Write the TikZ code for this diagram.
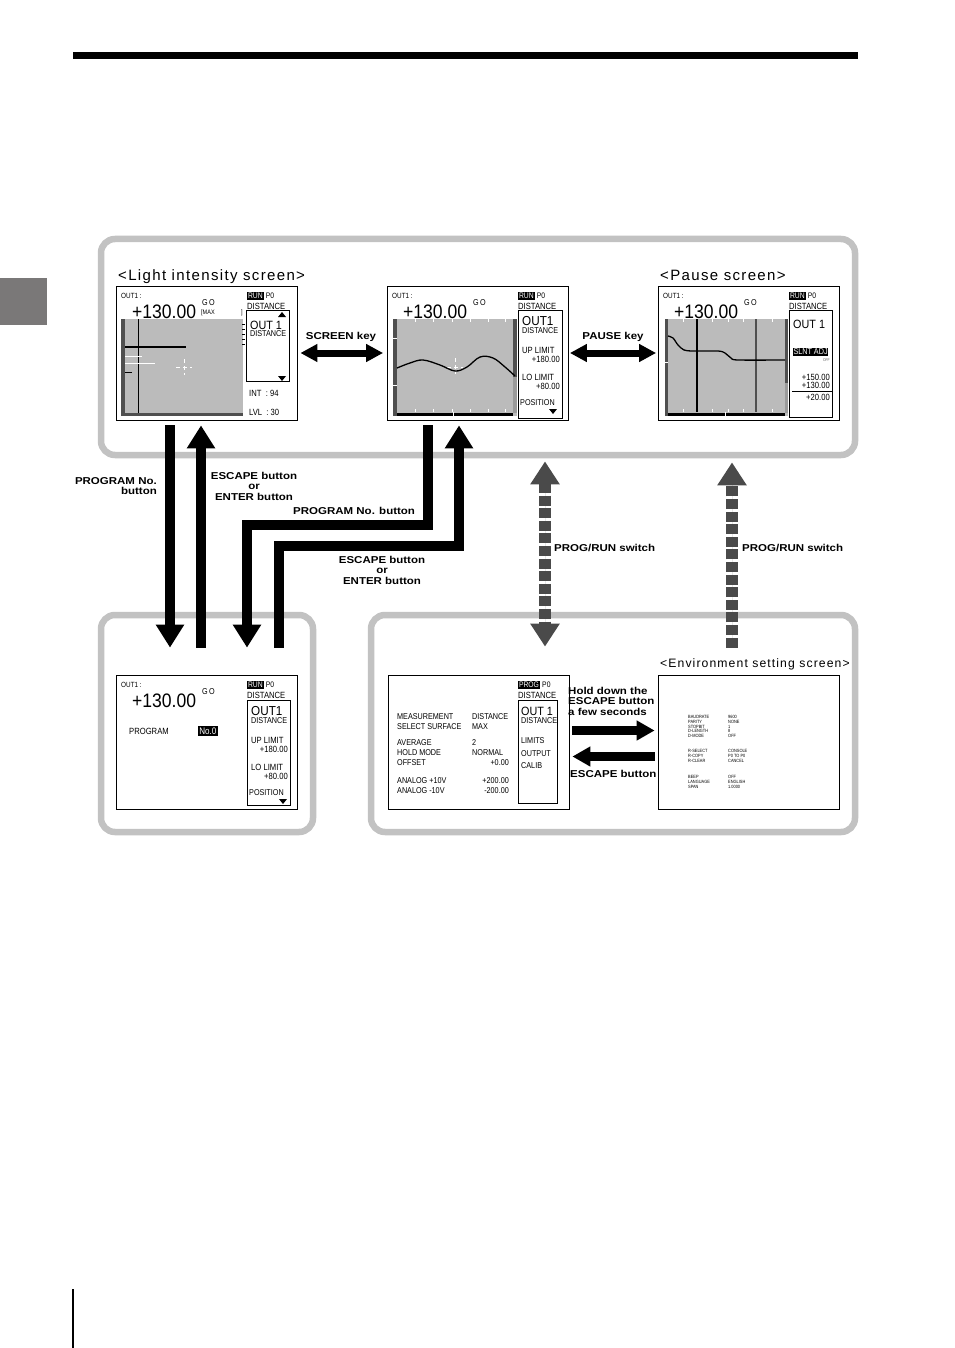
\documentclass[tikz,border=0pt]{standalone}
\usepackage{fontspec}
\setmainfont{Liberation Sans}
\newfontfamily\titlefont{Liberation Sans}[LetterSpace=9]
\newfontfamily\lblfont{Liberation Sans}[FakeStretch=1.15]
\newfontfamily\lcdfont{Liberation Sans}[FakeStretch=0.85]
\newfontfamily\lcdbigfont{Liberation Sans}[FakeStretch=0.9]
\usetikzlibrary{arrows.meta,positioning}

\definecolor{framegray}{HTML}{C2C2C2}
\definecolor{plotgray}{HTML}{BBBBBB}
\definecolor{edgegray}{HTML}{4F4F4F}
\definecolor{lightedge}{HTML}{9A9A9A}
\definecolor{switchgray}{HTML}{4A4A4A}
\definecolor{tabgray}{HTML}{7A7878}

\newcommand\fs[1]{\fontsize{#1}{#1}\selectfont}

% value line of a screen: #1 name, (#2,#3) top left corner
\newcommand\lcdvalue[3]{%
  \node[lcd,anchor=west,font=\lcdfont\fs{7.5}] (#1-out) at (#2+5,#3+10) {OUT1 :};
  \node[lcd,anchor=base west,font=\lcdbigfont\fs{19.5}] (#1-val) at (#2+16,#3+32) {+130.00};
  \node[lcd,anchor=west,font=\lcdfont\fs{8.5}] (#1-go) at (#2+86,#3+17) {G\,O};
}
% mode line of a screen: #1 name, (#2,#3) top left corner, #4 mode
\newcommand\lcdmode[4]{%
  \node[inv,anchor=west] (#1-mode) at (#2+131,#3+10) {#4};
  \node[lcd,anchor=west,xshift=2pt,font=\lcdfont\fs{8}] (#1-prg) at (#1-mode.east) {P0};
  \node[lcd,anchor=west] (#1-dist) at (#2+131,#3+20) {DISTANCE};
}

\begin{document}
\begin{tikzpicture}[x=1pt,y=-1pt,
    screen/.style={draw,line width=0.8pt,fill=white,minimum width=181pt,minimum height=134pt,inner sep=0pt},
    frame/.style={draw=framegray,line width=6.5pt,rounded corners=14pt},
    title/.style={anchor=base west,inner sep=0pt,font=\titlefont\fs{15}},
    lbl/.style={inner sep=0pt,align=center,font=\lblfont\bfseries\fontsize{10}{10.5}\selectfont},
    lcd/.style={inner sep=0pt,font=\lcdfont\fs{9}},
    inv/.style={fill=black,text=white,inner sep=0.8pt,font=\lcdfont\fs{8}},
    envtxt/.style={anchor=west,inner sep=0pt,font=\lcdfont\fs{4.6}},
    panel/.style={draw,line width=0.8pt},
    bigarrow/.style={line width=10.5pt,line join=miter,-{Triangle[width=27pt,length=23pt]}},
    keyarrow/.style={line width=7pt,{Triangle[width=17pt,length=17pt]}-{Triangle[width=17pt,length=17pt]}},
    holdarrow/.style={line width=8.5pt,-{Triangle[width=19pt,length=18pt]}},
    switcharrow/.style={draw=switchgray,fill=switchgray,line width=12.5pt,dash pattern=on 10pt off 2.6pt}
  ]
  \useasboundingbox (0,0) rectangle (954,1348);

  % page marks
  \fill (73,52) rectangle (858,59);
  \fill[tabgray] (0,278) rectangle (47,325);
  \draw[line width=1.5pt] (73,1289) -- (73,1348);

  % groups
  \draw[frame] (101,239) rectangle (855,455);
  \draw[frame] (101,615) rectangle (313,832);
  \draw[frame] (371,615) rectangle (855,832);

  % screens
  \node[screen] (light) at (206.5,353) {};
  \node[screen] (meas) at (478,353) {};
  \node[screen] (pause) at (749,353) {};
  \node[screen] (program) at (206.5,742) {};
  \node[screen] (setup) at (478.5,742) {};
  \node[screen] (env) at (748.5,742) {};

  \node[title] (light-title) at (118,280) {<Light intensity screen>};
  \node[title] (pause-title) at (660,280) {<Pause screen>};
  \node[title,font=\titlefont\fs{12.2}] (env-title) at (660,667) {<Environment setting screen>};

  % light intensity screen
  \lcdvalue{li}{116}{286}
  \lcdmode{li}{116}{286}{RUN}
  \node[lcd,anchor=west,font=\lcdfont\fs{6.5}] (li-max) at (201,313) {[MAX};
  \node[lcd,anchor=west,font=\lcdfont\fs{6.5}] (li-brk) at (241,313) {]};
  \fill[plotgray] (121,319) rectangle (243,416);
  \fill[edgegray] (121,319) rectangle (125,416);
  \fill[edgegray] (121,413) rectangle (243,416);
  \draw[line width=1pt] (138,319) -- (138,413);
  \draw[line width=1.3pt] (125,347) -- (186,347);
  \draw[white,line width=0.8pt] (125,356) -- (142,356) (125,363) -- (155,363);
  \draw[line width=1pt] (125,372) -- (132,372);
  \draw[white,line width=0.7pt,dash pattern=on 4pt off 3pt] (176,367) -- (192,367) (184,359) -- (184,375);
  \foreach \y in {324,329,334,339,344}
    \draw[line width=0.8pt] (242,\y) -- (244.5,\y);
  \draw[panel] (246,310) rectangle (289,381);
  \fill (278,317) -- (286,317) -- (282,312) -- cycle;
  \fill (278,376) -- (286,376) -- (282,381) -- cycle;
  \node[lcd,anchor=west,font=\lcdbigfont\fs{12}] (li-o1) at (250,325) {OUT 1};
  \node[lcd,anchor=west,font=\lcdfont\fs{8.5}] (li-o2) at (250,334) {DISTANCE};
  \node[lcd,anchor=west] (li-int) at (249,393) {INT\ \ : 94};
  \node[lcd,anchor=west] (li-lvl) at (249,412) {LVL\ \ : 30};

  % measurement screen
  \lcdvalue{me}{387}{286}
  \lcdmode{me}{387}{286}{RUN}
  \fill[plotgray] (393,319) rectangle (517,416);
  \fill[edgegray] (393,319) rectangle (397,416);
  \draw[white,line width=1pt] (393,338) -- (397,338) (393,385) -- (397,385);
  \fill[edgegray] (513,319) rectangle (517,377);
  \fill[lightedge] (513,377) rectangle (517,413);
  \fill (397,412.5) rectangle (513,416);
  \draw[white,line width=1pt] (453,412) -- (453,416);
  \foreach \x in {415,433,452,470,488,505}
    \draw[white,line width=0.7pt] (\x,319) -- (\x,322) (\x,409) -- (\x,412);
  \draw[white,line width=0.7pt,dash pattern=on 4pt off 3pt] (447,367) -- (463,367) (455,358) -- (455,374);
  \draw[line width=1.3pt] plot[smooth,tension=0.6] coordinates {(397,368) (410,363) (423,360) (440,365) (455,371) (467,367) (480,357) (493,358) (505,367) (515,376)};
  \draw[panel] (518,310) rectangle (562,418);
  \node[lcd,anchor=west,font=\lcdbigfont\fs{13}] (me-o1) at (522,321) {OUT1};
  \node[lcd,anchor=west,font=\lcdfont\fs{8.5}] (me-o2) at (522,331) {DISTANCE};
  \node[lcd,anchor=west] (me-up) at (522,350) {UP LIMIT};
  \node[lcd,anchor=east] (me-upv) at (560,359) {+180.00};
  \node[lcd,anchor=west] (me-lo) at (522,377) {LO LIMIT};
  \node[lcd,anchor=east] (me-lov) at (560,386) {+80.00};
  \node[lcd,anchor=west,font=\lcdfont\fs{8.5}] (me-pos) at (520,403) {POSITION};
  \fill (549,409) -- (557,409) -- (553,414) -- cycle;

  % pause screen
  \lcdvalue{ps}{658}{286}
  \lcdmode{ps}{658}{286}{RUN}
  \fill[plotgray] (665,319) rectangle (788,416);
  \fill[edgegray] (665,319) rectangle (668,416);
  \draw[white,line width=1pt] (665,362) -- (668,362);
  \fill[edgegray] (785,319) rectangle (788,383);
  \fill[lightedge] (785,383) rectangle (788,413);
  \fill (668,412.5) rectangle (785,416);
  \draw[white,line width=1pt] (725,412) -- (725,416);
  \foreach \x in {683,712,728,743,772}
    \draw[white,line width=0.7pt] (\x,319) -- (\x,322) (\x,409) -- (\x,412);
  \draw[line width=1.5pt] (697,319) -- (697,412);
  \draw[edgegray,line width=1.5pt] (756,319) -- (756,412);
  \draw[line width=1.3pt] plot[smooth,tension=0.5] coordinates {(668,336) (673,338) (678,345) (684,350) (693,351) (718,351) (725,353) (731,358) (738,360) (785,360)};
  \draw[panel] (789,310) rectangle (832,417);
  \node[lcd,anchor=west,font=\lcdbigfont\fs{12}] (ps-o1) at (793,324) {OUT 1};
  \node[inv,anchor=west,font=\lcdfont\fs{8.5}] (ps-slnt) at (792.5,352) {SLNT ADJ};
  \node[lcd,anchor=east,font=\lcdfont\fs{4},text=black!60] (ps-off) at (830,360) {OFF};
  \node[lcd,anchor=east] (ps-v1) at (830,377) {+150.00};
  \node[lcd,anchor=east] (ps-v2) at (830,385) {+130.00};
  \draw[line width=0.8pt] (792,391) -- (832,391);
  \node[lcd,anchor=east] (ps-v3) at (830,397) {+20.00};

  % program screen
  \lcdvalue{pg}{116}{675}
  \lcdmode{pg}{116}{675}{RUN}
  \node[lcd,anchor=west] (pg-prog) at (129,731) {PROGRAM};
  \node[inv,anchor=west,font=\lcdfont\fs{9.5},inner sep=1.2pt] (pg-no) at (198,731) {No.0};
  \draw[panel] (247,700) rectangle (290,805);
  \node[lcd,anchor=west,font=\lcdbigfont\fs{13}] (pg-o1) at (251,711) {OUT1};
  \node[lcd,anchor=west,font=\lcdfont\fs{8.5}] (pg-o2) at (251,721) {DISTANCE};
  \node[lcd,anchor=west] (pg-up) at (251,740) {UP LIMIT};
  \node[lcd,anchor=east] (pg-upv) at (288,749) {+180.00};
  \node[lcd,anchor=west] (pg-lo) at (251,767) {LO LIMIT};
  \node[lcd,anchor=east] (pg-lov) at (288,776) {+80.00};
  \node[lcd,anchor=west,font=\lcdfont\fs{8.5}] (pg-pos) at (249,793) {POSITION};
  \fill (279,799) -- (287,799) -- (283,804) -- cycle;

  % setup screen
  \lcdmode{su}{387}{675}{PROG}
  \draw[panel] (518,700) rectangle (557,803);
  \node[lcd,anchor=west,font=\lcdbigfont\fs{12}] (su-o1) at (521,711) {OUT 1};
  \node[lcd,anchor=west,font=\lcdfont\fs{8.5}] (su-o2) at (521,721) {DISTANCE};
  \node[lcd,anchor=west,font=\lcdfont\fs{8.5}] (su-lim) at (521,741) {LIMITS};
  \node[lcd,anchor=west,font=\lcdfont\fs{8.5}] (su-out) at (521,754) {OUTPUT};
  \node[lcd,anchor=west,font=\lcdfont\fs{8.5}] (su-cal) at (521,766) {CALIB};
  \foreach \k/\v/\y [count=\i] in {MEASUREMENT/DISTANCE/717, SELECT SURFACE/MAX/727, AVERAGE/2/743, HOLD MODE/NORMAL/753}
    \node[lcd,anchor=west,font=\lcdfont\fs{8.5}] (su-k\i) at (397,\y) {\k};
  \foreach \v/\y [count=\i] in {DISTANCE/717, MAX/727, 2/743, NORMAL/753}
    \node[lcd,anchor=west,font=\lcdfont\fs{8.5}] (su-v\i) at (472,\y) {\v};
  \node[lcd,anchor=west,font=\lcdfont\fs{8.5}] (su-off) at (397,763) {OFFSET};
  \node[lcd,anchor=east,font=\lcdfont\fs{8.5}] (su-offv) at (509,763) {+0.00};
  \node[lcd,anchor=west,font=\lcdfont\fs{8.5}] (su-a1) at (397,781) {ANALOG +10V};
  \node[lcd,anchor=east,font=\lcdfont\fs{8.5}] (su-a1v) at (509,781) {+200.00};
  \node[lcd,anchor=west,font=\lcdfont\fs{8.5}] (su-a2) at (397,791) {ANALOG -10V};
  \node[lcd,anchor=east,font=\lcdfont\fs{8.5}] (su-a2v) at (509,791) {-200.00};

  % environment setting screen
  \foreach \k/\v/\y [count=\i] in {BAUDRATE/9600/717, PARITY/NONE/721.8, STOPBIT/1/726.6, D-LENGTH/8/731.4, D-MODE/OFF/736.2,
      R-SELECT/CONSOLE/751, R-COPY/P0 TO P0/755.8, R-CLEAR/CANCEL/760.6,
      BEEP/OFF/777, LANGUAGE/ENGLISH/781.8, SPAN/1.0000/786.6} {
    \node[envtxt] (env-k\i) at (688,\y) {\k};
    \node[envtxt] (env-v\i) at (728,\y) {\v};
  }

  % key arrows
  \draw[keyarrow] ([xshift=3pt]light.east) -- ([xshift=-4pt]meas.west);
  \node[lbl] (screenkey) at (341,337) {SCREEN key};
  \draw[keyarrow] ([xshift=1pt]meas.east) -- ([xshift=-2pt]pause.west);
  \node[lbl] (pausekey) at (613,337) {PAUSE key};

  % program number arrows
  \draw[bigarrow] ([shift={(-36.5pt,-5pt)}]light.south) -- ([shift={(-36.5pt,27pt)}]program.north);
  \draw[bigarrow] ([shift={(-5.5pt,27pt)}]program.north) -- ([shift={(-5.5pt,-5pt)}]light.south);
  \node[lbl,align=right,anchor=east] (pgmlbl1) at (157,486) {PROGRAM No.\\button};
  \node[lbl] (esclbl1) at (254,486) {ESCAPE button\\or\\ENTER button};

  \coordinate (pgmbend1) at (428,525);
  \coordinate (pgmbend2) at (247,525);
  \draw[bigarrow] ([shift={(-50pt,-5pt)}]meas.south) -- (pgmbend1) -- (pgmbend2) -- ([shift={(40.5pt,27pt)}]program.north);
  \coordinate (escbend1) at (279,546);
  \coordinate (escbend2) at (459,546);
  \draw[bigarrow] ([shift={(72.5pt,27pt)}]program.north) -- (escbend1) -- (escbend2) -- ([shift={(-19pt,-5pt)}]meas.south);
  \node[lbl,anchor=west] (pgmlbl2) at (293,511) {PROGRAM No. button};
  \node[lbl] (esclbl2) at (382,570) {ESCAPE button\\or\\ENTER button};

  % PROG/RUN switch
  \draw[switcharrow,{Triangle[width=28pt,length=23pt]}-{Triangle[width=28pt,length=23pt]}] ([shift={(67pt,-41pt)}]meas.south) -- ([shift={(66.5pt,28pt)}]setup.north);
  \node[lbl,anchor=west] (sw1) at (554,548) {PROG/RUN switch};
  \draw[switcharrow,-{Triangle[width=28pt,length=23pt]}] ([shift={(-16.5pt,27pt)}]env.north) -- ([shift={(-17pt,-42pt)}]pause.south);
  \node[lbl,anchor=west] (sw2) at (742,548) {PROG/RUN switch};

  % environment arrows
  \draw[holdarrow] ([shift={(3pt,11.5pt)}]setup.east) -- ([shift={(-3pt,11.5pt)}]env.west);
  \draw[holdarrow] ([shift={(-3pt,-14.5pt)}]env.west) -- ([shift={(3pt,-14.5pt)}]setup.east);
  \node[lbl,align=left,anchor=west] (holdlbl) at (568,701) {Hold down the\\ESCAPE button\\a few seconds};
  \node[lbl,anchor=west] (esclbl3) at (570,774) {ESCAPE button};
\end{tikzpicture}
\end{document}
